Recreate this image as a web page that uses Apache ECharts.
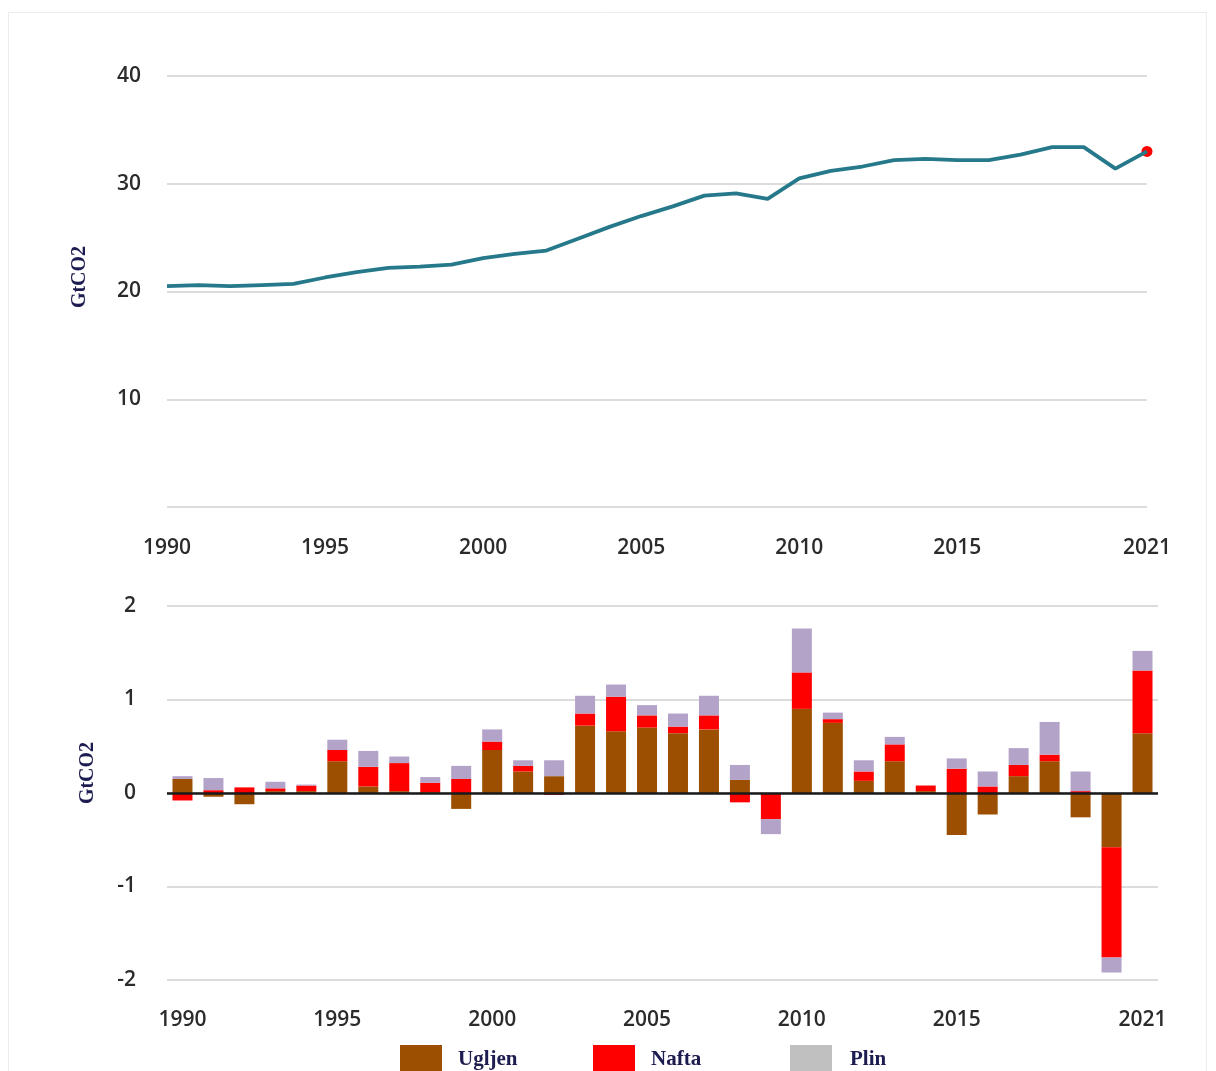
<!DOCTYPE html>
<html>
<head>
<meta charset="utf-8">
<script src="https://cdn.jsdelivr.net/npm/echarts@6/dist/echarts.min.js"></script>
<style>
  html, body { margin: 0; padding: 0; background: #fff; }
  #co2-chart { width: 1216px; height: 1071px; }
</style>
</head>
<body>
<div id="co2-chart"></div>
<script>
// godine 1990 - 2021
const years = []
for (let y = 1990; y <= 2021; y++) years.push(String(y))
const labelYears = ['1990', '1995', '2000', '2005', '2010', '2015', '2021']

// ukupne emisije, GtCO2
const emissions = [20.5, 20.6, 20.5, 20.6, 20.7, 21.3, 21.8, 22.2, 22.3, 22.5,
  23.1, 23.5, 23.8, 24.9, 26.0, 27.0, 27.9, 28.9, 29.1, 28.6,
  30.5, 31.2, 31.6, 32.2, 32.3, 32.2, 32.2, 32.7, 33.4, 33.4, 31.4, 33.0]
const lastPoint = ['2021', 33.0]

// godisnja promjena po gorivu, GtCO2
const coal = [0.15, -0.04, -0.12, 0.02, 0.02, 0.34, 0.07, 0.02, 0.01, -0.17,
  0.46, 0.23, 0.18, 0.72, 0.66, 0.70, 0.64, 0.68, 0.14, -0.01,
  0.90, 0.75, 0.13, 0.34, 0.02, -0.45, -0.23, 0.18, 0.34, -0.26, -0.58, 0.64]
const oil = [-0.08, 0.03, 0.06, 0.03, 0.06, 0.12, 0.21, 0.30, 0.10, 0.15,
  0.09, 0.06, -0.02, 0.13, 0.37, 0.13, 0.07, 0.15, -0.10, -0.27,
  0.39, 0.04, 0.10, 0.18, 0.06, 0.26, 0.07, 0.12, 0.07, 0.02, -1.18, 0.67]
const gas = [0.03, 0.13, 0.00, 0.07, 0.01, 0.11, 0.17, 0.07, 0.06, 0.14,
  0.13, 0.06, 0.17, 0.19, 0.13, 0.11, 0.14, 0.21, 0.16, -0.16,
  0.47, 0.07, 0.12, 0.08, 0.00, 0.11, 0.16, 0.18, 0.35, 0.21, -0.16, 0.21]

const numFont = { fontFamily: 'Open Sans', fontSize: 21, fontWeight: 600, color: '#2b2b2b' }
const unitFont = { fontFamily: 'Liberation Serif', fontSize: 20, fontWeight: 'bold', fill: '#1c1c50' }
const legendText = { fontFamily: 'Liberation Serif', fontSize: 21, fontWeight: 'bold', color: '#1c1c50', padding: [0, 0, 0, 11] }
const showYear = function (i, v) { return labelYears.indexOf(v) !== -1 }

const myChart = echarts.init(document.getElementById('co2-chart'))
const option = {
  backgroundColor: '#fff',
  animation: false,
  grid: [
    { left: 167, right: 69, top: 76, height: 431 },
    { left: 167, right: 58, top: 606, height: 374 }
  ],
  xAxis: [
    {
      type: 'category',
      gridIndex: 0,
      data: years,
      boundaryGap: false,
      axisLine: { show: false },
      axisTick: { show: false },
      axisLabel: Object.assign({ interval: showYear, margin: 31 }, numFont)
    },
    {
      type: 'category',
      gridIndex: 1,
      data: years,
      axisLine: { show: false, onZero: false },
      axisTick: { show: false },
      axisLabel: Object.assign({ interval: showYear, margin: 30 }, numFont)
    }
  ],
  yAxis: [
    {
      type: 'value',
      gridIndex: 0,
      min: 0,
      max: 40,
      interval: 10,
      axisLabel: Object.assign({ showMinLabel: false, margin: 26 }, numFont),
      splitLine: { lineStyle: { color: '#dcdcdc', width: 2 } }
    },
    {
      type: 'value',
      gridIndex: 1,
      min: -2,
      max: 2,
      interval: 1,
      axisLabel: Object.assign({ margin: 31 }, numFont),
      splitLine: { lineStyle: { color: '#dcdcdc', width: 2 } }
    }
  ],
  legend: [
    {
      left: 400, top: 1045, padding: 0, itemWidth: 42, itemHeight: 30, icon: 'rect',
      selectedMode: false, textStyle: legendText,
      data: ['Ugljen']
    },
    {
      left: 593, top: 1045, padding: 0, itemWidth: 42, itemHeight: 30, icon: 'rect',
      selectedMode: false, textStyle: legendText,
      data: ['Nafta']
    },
    {
      left: 790, top: 1045, padding: 0, itemWidth: 42, itemHeight: 30, icon: 'rect',
      selectedMode: false, textStyle: Object.assign({}, legendText, { padding: [0, 0, 0, 13] }),
      data: [{ name: 'Plin', itemStyle: { color: '#c0c0c0' } }]
    }
  ],
  graphic: [
    {
      type: 'rect', silent: true, z: -1,
      shape: { x: 8.5, y: 12.5, width: 1198, height: 1080 },
      style: { fill: 'none', stroke: '#ececec', lineWidth: 1 }
    },
    { type: 'text', x: 80, y: 277, rotation: Math.PI / 2, style: Object.assign({ text: 'GtCO2', align: 'center', verticalAlign: 'middle' }, unitFont) },
    { type: 'text', x: 88, y: 773, rotation: Math.PI / 2, style: Object.assign({ text: 'GtCO2', align: 'center', verticalAlign: 'middle' }, unitFont) }
  ],
  series: [
    {
      name: 'Emisije',
      type: 'line',
      xAxisIndex: 0,
      yAxisIndex: 0,
      data: emissions,
      showSymbol: false,
      lineStyle: { color: '#26798a', width: 3.8 }
    },
    {
      name: '2021',
      type: 'scatter',
      xAxisIndex: 0,
      yAxisIndex: 0,
      data: [lastPoint],
      symbolSize: 11,
      itemStyle: { color: '#ff0000', opacity: 1 }
    },
    {
      name: 'Ugljen',
      type: 'bar',
      xAxisIndex: 1,
      yAxisIndex: 1,
      stack: 'gorivo',
      barWidth: 20,
      data: coal,
      itemStyle: { color: '#9c4f00' },
      markLine: {
        silent: true,
        symbol: 'none',
        label: { show: false },
        lineStyle: { color: '#1a1a1a', width: 2.5, type: 'solid' },
        data: [{ yAxis: 0 }]
      }
    },
    {
      name: 'Nafta',
      type: 'bar',
      xAxisIndex: 1,
      yAxisIndex: 1,
      stack: 'gorivo',
      barWidth: 20,
      data: oil,
      itemStyle: { color: '#ff0000' }
    },
    {
      name: 'Plin',
      type: 'bar',
      xAxisIndex: 1,
      yAxisIndex: 1,
      stack: 'gorivo',
      barWidth: 20,
      data: gas,
      itemStyle: { color: '#b3a3c9' }
    }
  ]
}

myChart.setOption(option)
window.addEventListener('resize', function () {
  myChart.resize()
})
</script>
</body>
</html>
